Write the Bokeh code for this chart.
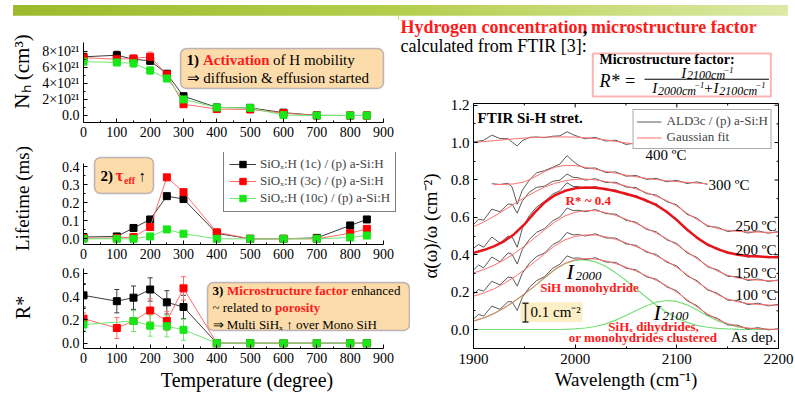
from bokeh.plotting import figure
from bokeh.models import (Range1d, LinearAxis, FixedTicker, PrintfTickFormatter, Legend,
                          LegendItem, BoxAnnotation, Whisker, ColumnDataSource, Div, GridBox, TeeHead)
from bokeh.core.properties import value
from bokeh.embed import file_html
from bokeh.resources import INLINE

SERIF = "Liberation Serif"

# ================= DATA: left panels =================
temps = [0, 100, 150, 200, 250, 300, 400, 500, 600, 700, 800, 850]
series_names = ["SiOₓ:H (1c) / (p) a-Si:H", "SiOₓ:H (3c) / (p) a-Si:H", "SiOₓ:H (10c) / (p) a-Si:H"]
temp_ticks = [0, 100, 200, 300, 400, 500, 600, 700, 800, 900]
temp_minor = [50, 150, 250, 350, 450, 550, 650, 750, 850]

# hydrogen concentration N_H in units of 1e21 cm^-3
nh_1c = [7.3, 7.5, 7.0, 6.8, 5.2, 2.4, 1.0, 0.95, 0.35, 0.02, 0.0, 0.0]
nh_3c = [7.2, 7.0, 7.1, 7.3, 5.1, 1.4, 0.8, 0.75, 0.30, 0.0, 0.0, 0.0]
nh_10c = [6.7, 6.6, 6.5, 5.6, 4.6, 2.0, 1.0, 0.95, 0.05, 0.0, 0.0, 0.0]
nh_err_1c = [0.3, 0.5, 0.3, 0.4, 0.25, 0.15, 0.1, 0.1, 0.05, 0.0, 0.0, 0.0]
nh_err_3c = [0.3, 0.6, 0.4, 0.6, 0.25, 0.2, 0.1, 0.1, 0.05, 0.0, 0.0, 0.0]
nh_err_10c = [0.3, 0.4, 0.5, 0.45, 0.3, 0.2, 0.1, 0.1, 0.05, 0.0, 0.0, 0.0]
nh_ticks = [0, 2, 4, 6, 8]
nh_tick_labels = ["0.0", "2×10²¹", "4×10²¹", "6×10²¹", "8×10²¹"]

# effective lifetime (ms)
tau_1c = [0.010, 0.013, 0.060, 0.107, 0.236, 0.220, 0.030, 0.0, 0.0, 0.005, 0.074, 0.107]
tau_3c = [0.004, 0.004, 0.010, 0.065, 0.340, 0.258, 0.036, 0.0, 0.0, 0.0, 0.031, 0.055]
tau_10c = [0.0, 0.0, 0.0, 0.013, 0.052, 0.028, 0.0, 0.0, 0.0, 0.0, 0.007, 0.018]

# microstructure factor R*
rstar_1c = [0.41, 0.36, 0.39, 0.46, 0.35, 0.31, 0.0, 0.0, 0.0, 0.0, 0.0, 0.0]
rstar_err_1c = [0.10, 0.10, 0.10, 0.10, 0.10, 0.10, 0.0, 0.0, 0.0, 0.0, 0.0, 0.0]
rstar_3c = [0.21, 0.13, 0.19, 0.28, 0.19, 0.47, 0.0, 0.0, 0.0, 0.0, 0.0, 0.0]
rstar_err_3c = [0.05, 0.09, 0.09, 0.10, 0.08, 0.10, 0.0, 0.0, 0.0, 0.0, 0.0, 0.0]
temps_r_10c = [0, 150, 200, 250, 300, 400, 500, 600, 700, 800, 850]
rstar_10c = [0.16, 0.19, 0.15, 0.145, 0.115, 0.0, 0.0, 0.0, 0.0, 0.0, 0.0]
rstar_err_10c = [0.05, 0.09, 0.09, 0.09, 0.09, 0.0, 0.0, 0.0, 0.0, 0.0, 0.0]

# ================= DATA: FTIR panel =================
wn = [1900, 1910, 1920, 1930, 1940, 1950, 1960, 1970, 1980, 1990, 2000, 2010, 2020, 2030, 2040,
      2050, 2060, 2070, 2080, 2090, 2100, 2110, 2120, 2130, 2140, 2150, 2160, 2170, 2180, 2190, 2200]
fit_asdep = [.045, .062, .085, .115, .150, .190, .232, .278, .322, .355, .373, .380, .377, .367, .352,
             .334, .312, .288, .262, .234, .200, .160, .120, .084, .053, .031, .016, .008, .004, .002, .000]
fit_100 = [.178, .195, .217, .246, .280, .319, .361, .405, .447, .480, .498, .506, .505, .496, .482,
           .464, .443, .420, .394, .366, .333, .293, .254, .218, .187, .163, .148, .139, .134, .131, .130]
fit_150 = [.302, .320, .343, .372, .406, .446, .489, .533, .575, .608, .627, .636, .635, .626, .610,
           .590, .567, .542, .515, .486, .453, .416, .378, .342, .312, .290, .276, .268, .264, .262, .261]
fit_200 = [.410, .425, .445, .472, .510, .562, .625, .680, .718, .742, .755, .760, .758, .752, .740,
           .726, .710, .690, .665, .630, .585, .535, .490, .455, .430, .412, .400, .393, .390, .388, .387]
fit_250 = [.550, .575, .605, .638, .672, .705, .735, .762, .782, .796, .803, .805, .800, .792, .781,
           .768, .752, .733, .712, .690, .660, .622, .588, .558, .540, .530, .525, .522, .521, .520, .520]
wn_300 = [1920, 1930, 1940, 1950, 1960, 1970, 1980, 1990, 2000, 2010, 2020, 2030, 2040, 2050, 2060,
          2070, 2080, 2090, 2100, 2110, 2120, 2130]
fit_300 = [.775, .776, .779, .790, .815, .845, .868, .878, .877, .868, .857, .846, .836, .826, .817,
           .809, .802, .796, .791, .787, .783, .780]
wn_400 = [1900, 1910, 1920, 1930, 1940, 1950, 1960, 1970, 1980, 1990, 2000, 2010, 2020, 2030, 2040,
          2050, 2060, 2070, 2080, 2090, 2100]
fit_400 = [1.000, 1.005, 1.010, 1.015, 1.020, 1.024, 1.027, 1.029, 1.030, 1.030, 1.029, 1.026, 1.021,
           1.014, 1.006, .998, .992, .987, .982, .978, .975]
gauss_2000 = [.045, .062, .085, .115, .150, .190, .232, .277, .320, .352, .370, .374, .362, .338, .303,
              .262, .218, .173, .130, .092, .062, .038, .022, .012, .006, .003, .001, 0, 0, 0, 0]
gauss_2100 = [0, 0, 0, 0, 0, 0, 0, 0, 0, .001, .003, .008, .016, .030, .050,
              .075, .102, .127, .146, .155, .150, .132, .104, .074, .047, .027, .014, .006, .003, .001, 0]

wn_meas = [1900, 1905, 1910, 1918, 1926, 1934, 1938, 1943, 1948, 1955, 1962, 1970, 1978, 1985, 1992,
           1998, 2003, 2010, 2020, 2030, 2040, 2050, 2060, 2070, 2080, 2090, 2100, 2110, 2120, 2130,
           2140, 2150, 2160, 2170, 2180, 2190, 2200]
meas_asdep = [.057, .081, .072, .125, .108, .149, .148, .102, .172, .226, .261, .283, .328, .349, .394,
              .381, .383, .374, .384, .361, .359, .328, .319, .282, .269, .228, .207, .154, .127, .078,
              .060, .025, .023, .002, .010, -.002, .004]
meas_100 = [.190, .214, .205, .258, .239, .280, .278, .232, .301, .355, .390, .410, .454, .474, .519,
            .506, .508, .500, .512, .490, .489, .458, .450, .414, .401, .360, .340, .287, .261, .212,
            .194, .157, .155, .133, .141, .126, .135]
meas_150 = [.318, .345, .330, .388, .362, .410, .402, .350, .428, .482, .520, .540, .582, .602, .650,
            .636, .638, .630, .642, .620, .617, .584, .574, .536, .522, .480, .460, .410, .385, .336,
            .319, .284, .283, .262, .270, .257, .265]
meas_200 = [.435, .455, .440, .495, .462, .500, .495, .440, .540, .610, .655, .685, .725, .742, .785,
            .765, .765, .754, .765, .746, .747, .720, .717, .684, .672, .624, .592, .529, .497, .449,
            .437, .406, .407, .387, .396, .383, .391]
meas_250 = [.562, .590, .585, .644, .630, .671, .670, .622, .688, .735, .760, .767, .793, .799, .832,
            .814, .812, .799, .807, .786, .788, .762, .759, .727, .719, .684, .667, .616, .595, .552,
            .547, .524, .532, .516, .527, .515, .524]
wn_meas_300 = [1918, 1926, 1934, 1938, 1943, 1948, 1955, 1962, 1970, 1978, 1985, 1992, 1998, 2003,
               2010, 2020, 2030, 2040, 2050, 2060, 2070, 2080, 2090, 2100, 2110, 2120, 2130]
meas_300 = [.780, .776, .782, .762, .670, .745, .800, .838, .850, .868, .885, .930, .900, .880,
            .862, .864, .840, .843, .820, .824, .803, .809, .790, .798, .781, .790, .776]
wn_meas_400 = [1900, 1905, 1910, 1918, 1926, 1934, 1938, 1943, 1948, 1955, 1962, 1970, 1978, 1985,
               1992, 1998, 2003, 2010, 2020, 2030, 2040, 2050, 2060, 2070, 2080, 2090, 2100]
meas_400 = [1.002, 1.008, 1.012, 1.040, 1.022, 1.020, 1.002, .982, 1.010, 1.028, 1.030, 1.026, 1.034,
            1.036, 1.058, 1.042, 1.032, 1.020, 1.028, 1.008, 1.013, .990, .998, .980, .988, .972, .978]
wn_ticks = [1900, 2000, 2100, 2200]
wn_minor = [1950, 2050, 2150]
ab_ticks = [0, 0.2, 0.4, 0.6, 0.8, 1.0, 1.2]
ab_minor = [0.1, 0.3, 0.5, 0.7, 0.9, 1.1]

# ================= styles =================
LINE_C = ["#3c3c3c", "#ff6a6a", "#70e870"]
MARK_C = ["#000000", "#ff0000", "#17e617"]
BOX_FILL = "#fcdcab"
BOX_LINE = "#26306c"
RED_TXT = "#ff1a1a"


def txt(p, x, y, s, size, color="black", style="normal", align="left", rn="px"):
    kw = dict(x_range_name=rn, y_range_name=rn) if rn else {}
    p.text(x=[x], y=[y], text=[s], text_font=value(SERIF), text_font_size=size, text_color=color,
           text_font_style=style, text_align=align, text_baseline="middle", **kw)


def style_axis(ax, tick_size="14px", label_size="20px", label_standoff=5, tick_standoff=4):
    ax.major_tick_in = 4
    ax.major_tick_out = 0
    ax.minor_tick_in = 2
    ax.minor_tick_out = 0
    ax.axis_line_color = "black"
    ax.major_tick_line_color = "black"
    ax.minor_tick_line_color = "black"
    ax.major_label_text_font = SERIF
    ax.major_label_text_font_size = tick_size
    ax.major_label_text_color = "black"
    ax.major_label_standoff = tick_standoff
    ax.axis_label_text_font = SERIF
    ax.axis_label_text_font_size = label_size
    ax.axis_label_text_font_style = "normal"
    ax.axis_label_text_color = "black"
    ax.axis_label_standoff = label_standoff


def left_fig(width, height, top_b, bot_b, yr, frame_top, frame_bottom):
    p = figure(width=width, height=height, x_range=Range1d(0, (width - 83) * 3),
               y_range=Range1d(*yr), output_backend="svg", toolbar_location=None, tools="",
               x_axis_type=None, y_axis_type=None, min_border_left=83, min_border_right=0,
               min_border_top=top_b, min_border_bottom=bot_b)
    p.outline_line_color = None
    p.extra_x_ranges = {"px": Range1d(83, width)}
    p.extra_y_ranges = {"px": Range1d(frame_bottom, frame_top)}
    xa = LinearAxis(ticker=FixedTicker(ticks=temp_ticks, minor_ticks=temp_minor), bounds=(0, 900))
    style_axis(xa)
    p.add_layout(xa, "below")
    return p, xa


def add_series(p, xs, ys, k, errs=None):
    lr = p.line(xs, ys, line_color=LINE_C[k], line_width=1)
    if errs is not None:
        bx = [x for x, e in zip(xs, errs) if e > 0]
        lo = [y - e for y, e in zip(ys, errs) if e > 0]
        hi = [y + e for y, e in zip(ys, errs) if e > 0]
        src = ColumnDataSource(dict(x=bx, lo=lo, hi=hi))
        w = Whisker(source=src, base="x", lower="lo", upper="hi", line_color=LINE_C[k], line_width=1,
                    upper_head=TeeHead(size=5, line_color=LINE_C[k], line_width=1),
                    lower_head=TeeHead(size=5, line_color=LINE_C[k], line_width=1), level="underlay")
        p.add_layout(w)
    sr = p.scatter(xs, ys, marker="square", size=7, fill_color=MARK_C[k], line_color=MARK_C[k])
    return lr, sr


def panel_box(p, l, r, t, b):
    p.add_layout(BoxAnnotation(left=l, right=r, top=t, bottom=b, x_range_name="px", y_range_name="px",
                               fill_color=BOX_FILL, fill_alpha=1, line_color=BOX_LINE, line_width=1.5,
                               border_radius=6, level="underlay"))


# ---------------- panel 1: N_H ----------------
fig1, _ = left_fig(398, 132, 5, 25, (-0.871, 11.82), 20, 122)
ya1 = LinearAxis(ticker=FixedTicker(ticks=nh_ticks, minor_ticks=[1, 3, 5, 7]), bounds=(-0.871, 9.1),
                 axis_label="Nₕ (cm³)",
                 major_label_overrides={t: s for t, s in zip(nh_ticks, nh_tick_labels)})
style_axis(ya1, label_size="21px", label_standoff=5)
fig1.add_layout(ya1, "left")
panel_box(fig1, 180, 383, 48, 88)
for k, (ys, es) in enumerate([(nh_1c, nh_err_1c), (nh_3c, nh_err_3c), (nh_10c, nh_err_10c)]):
    add_series(fig1, temps, ys, k, es)
txt(fig1, 186, 59, "1)", "15px", style="bold")
txt(fig1, 202.5, 59, "Activation", "15px", color=RED_TXT, style="bold")
txt(fig1, 272.6, 59, "of H mobility", "15px")
txt(fig1, 186, 77, "⇒ diffusion & effusion started", "15px")

# ---------------- panel 2: lifetime ----------------
fig2, _ = left_fig(398, 117, 5, 20, (-0.0315, 0.4775), 152, 244)
ya2 = LinearAxis(ticker=FixedTicker(ticks=[0, 0.1, 0.2, 0.3, 0.4], minor_ticks=[0.05, 0.15, 0.25, 0.35]),
                 bounds=(-0.0315, 0.415), axis_label="Lifetime (ms)",
                 formatter=PrintfTickFormatter(format="%.1f"))
style_axis(ya2, label_size="19px", label_standoff=26)
fig2.add_layout(ya2, "left")
panel_box(fig2, 94, 153, 157, 193)
items = []
for k, ys in enumerate([tau_1c, tau_3c, tau_10c]):
    lr, sr = add_series(fig2, temps, ys, k)
    items.append(LegendItem(label=series_names[k], renderers=[lr, sr]))
txt(fig2, 100, 175, "2)", "15px", style="bold")
txt(fig2, 115, 175, "τ", "17px", color=RED_TXT, style="bold")
txt(fig2, 123.5, 179.5, "eff", "10px", color=RED_TXT, style="bold")
txt(fig2, 138, 175, "↑", "15px")
leg2 = Legend(items=items, location=(140, 32), label_text_font=SERIF, label_text_font_size="13px",
              glyph_width=27, glyph_height=16, label_height=16, label_standoff=4, padding=5, spacing=1,
              border_line_color="black", border_line_width=1, background_fill_color="white",
              background_fill_alpha=1, margin=0)
fig2.add_layout(leg2)

# ---------------- panel 3: R* ----------------
fig3, xa3 = left_fig(410, 137, 2, 53, (-0.0454, 0.657), 266, 348)
xa3.axis_label = "Temperature (degree)"
xa3.axis_label_text_font_size = "20px"
xa3.axis_label_standoff = 3
ya3 = LinearAxis(ticker=FixedTicker(ticks=[0, 0.2, 0.4, 0.6], minor_ticks=[0.1, 0.3, 0.5]),
                 bounds=(-0.0454, 0.64), axis_label="R*",
                 formatter=PrintfTickFormatter(format="%.1f"))
style_axis(ya3, label_standoff=25)
fig3.add_layout(ya3, "left")
panel_box(fig3, 207, 409, 282, 330)
add_series(fig3, temps, rstar_1c, 0, rstar_err_1c)
add_series(fig3, temps, rstar_3c, 1, rstar_err_3c)
add_series(fig3, temps_r_10c, rstar_10c, 2, rstar_err_10c)
txt(fig3, 212, 290, "3)", "13px", style="bold")
txt(fig3, 226.5, 290, "Microstructure factor", "13px", color=RED_TXT, style="bold")
txt(fig3, 350.8, 290, "enhanced", "13px")
txt(fig3, 212, 307, "~ related to", "13px")
txt(fig3, 274.5, 307, "porosity", "13px", color=RED_TXT, style="bold")
txt(fig3, 212, 323.5, "⇒  Multi SiHₓ ↑ over Mono SiH", "13px")

# ---------------- header ----------------
header = figure(width=397, height=83, x_range=Range1d(398, 795), y_range=Range1d(98, 15),
                output_backend="svg", toolbar_location=None, tools="", x_axis_type=None,
                y_axis_type=None, min_border_left=0, min_border_right=0, min_border_top=0,
                min_border_bottom=0)
header.outline_line_color = None
txt(header, 400, 22, "Hydrogen concentration", "18px", color=RED_TXT, style="bold", rn=None)
txt(header, 590.5, 22, ",", "18px", style="bold", rn=None)
txt(header, 599, 22, "microstructure factor", "18px", color=RED_TXT, style="bold", rn=None)
txt(header, 400, 42, "calculated from FTIR [3]:", "18px", rn=None)
header.add_layout(BoxAnnotation(left=601, right=787, top=50, bottom=96, fill_color="white", fill_alpha=1,
                                line_color="#ff0000", line_width=2, level="underlay"))
txt(header, 608, 56.5, "Microstructure factor:", "14px", style="bold", rn=None)
txt(header, 608, 79, "R* =", "18px", style="italic", rn=None)
header.segment(x0=[655], y0=[77.5], x1=[785], y1=[77.5], line_color="black", line_width=1)
txt(header, 693.5, 70.5, "I", "15px", style="italic", rn=None)
txt(header, 699.5, 73.5, "2100cm", "12px", style="italic", rn=None)
txt(header, 737.5, 67.5, "−1", "8.5px", style="italic", rn=None)
txt(header, 663, 87, "I", "15px", style="italic", rn=None)
txt(header, 669, 90, "2000cm", "12px", style="italic", rn=None)
txt(header, 707, 84, "−1", "8.5px", style="italic", rn=None)
txt(header, 717.5, 87, "+", "15px", rn=None)
txt(header, 727, 87, "I", "15px", style="italic", rn=None)
txt(header, 733, 90, "2100cm", "12px", style="italic", rn=None)
txt(header, 771, 84, "−1", "8.5px", style="italic", rn=None)

# ---------------- FTIR panel ----------------
Y0, Y1 = -0.1016, 1.209
ftir = figure(width=385, height=303, x_range=Range1d(1900, 2200), y_range=Range1d(Y0, Y1),
              output_backend="svg", toolbar_location=None, tools="", x_axis_type=None, y_axis_type=None,
              min_border_left=63, min_border_right=17, min_border_top=5, min_border_bottom=49)
ftir.outline_line_color = "black"
ftir.extra_x_ranges = {"px": Range1d(473, 778)}
ftir.extra_y_ranges = {"px": Range1d(352, 103)}
fxa = LinearAxis(ticker=FixedTicker(ticks=wn_ticks, minor_ticks=wn_minor), axis_label="Wavelength (cm⁻¹)")
style_axis(fxa, tick_size="15px", label_size="19px", label_standoff=2, tick_standoff=5)
ftir.add_layout(fxa, "below")
fya = LinearAxis(ticker=FixedTicker(ticks=ab_ticks, minor_ticks=ab_minor), axis_label="α(ω)/ω (cm⁻²)",
                 formatter=PrintfTickFormatter(format="%.1f"))
style_axis(fya, tick_size="15px", label_size="19px", label_standoff=7, tick_standoff=4)
ftir.add_layout(fya, "left")
# inward ticks on the top and right frame edges
px_y = (Y1 - Y0) / 249.0
px_x = 300.0 / 305.0
ftir.segment(x0=wn_ticks, y0=[Y1] * 4, x1=wn_ticks, y1=[Y1 - 4 * px_y] * 4, line_color="black")
ftir.segment(x0=wn_minor, y0=[Y1] * 3, x1=wn_minor, y1=[Y1 - 2 * px_y] * 3, line_color="black")
ftir.segment(x0=[2200] * 7, y0=ab_ticks, x1=[2200 - 4 * px_x] * 7, y1=ab_ticks, line_color="black")
ftir.segment(x0=[2200] * 6, y0=ab_minor, x1=[2200 - 2 * px_x] * 6, y1=ab_minor, line_color="black")

# scale bar box
ftir.add_layout(BoxAnnotation(left=520, right=582, top=305, bottom=325, x_range_name="px",
                              y_range_name="px", fill_color="#fcefc6", fill_alpha=1, line_color=None,
                              level="underlay"))
ftir.segment(x0=[525, 522, 522], y0=[306, 306, 325], x1=[525, 528, 528], y1=[325, 306, 325],
             line_color="#333333", line_width=1.5, x_range_name="px", y_range_name="px")
txt(ftir, 530, 315, "0.1 cm⁻²", "15px")

ftir.line(wn, gauss_2000, line_color="#78e078", line_width=1.2)
ftir.line(wn, gauss_2100, line_color="#78e078", line_width=1.2)

meas_sets = [(wn_meas, meas_asdep), (wn_meas, meas_100), (wn_meas, meas_150), (wn_meas, meas_200),
             (wn_meas, meas_250), (wn_meas_300, meas_300), (wn_meas_400, meas_400)]
fit_sets = [(wn, fit_asdep), (wn, fit_100), (wn, fit_150), (wn, fit_250), (wn_300, fit_300),
            (wn_400, fit_400)]
black_r = None
for xs, ys in meas_sets:
    r = ftir.line(xs, ys, line_color="#5a5a5a", line_width=1)
    black_r = black_r or r
red_r = None
for xs, ys in fit_sets:
    r = ftir.line(xs, ys, line_color="#ff6f6f", line_width=1)
    red_r = red_r or r
ftir.line(wn, fit_200, line_color="#e8141a", line_width=2.5)

txt(ftir, 477, 118, "FTIR Si-H stret.", "15px", style="bold")
txt(ftir, 645, 155, "400 ºC", "15px")
txt(ftir, 708, 186, "300 ºC", "15px")
txt(ftir, 776, 227, "250 ºC", "15px", align="right")
txt(ftir, 776, 252, "200 ºC", "15px", align="right")
txt(ftir, 776, 275, "150 ºC", "15px", align="right")
txt(ftir, 776, 298, "100 ºC", "15px", align="right")
txt(ftir, 776, 340, "As dep.", "15px", align="right")
txt(ftir, 565, 202, "R* ~ 0.4", "13px", color=RED_TXT, style="bold")
txt(ftir, 566, 274, "I", "22px", style="italic")
txt(ftir, 575, 278, "2000", "13px", style="italic")
txt(ftir, 589, 290, "SiH monohydride", "13px", color=RED_TXT, style="bold", align="center")
txt(ftir, 653, 315, "I", "22px", style="italic")
txt(ftir, 662, 319, "2100", "13px", style="italic")
txt(ftir, 653, 329.5, "SiHₓ dihydrides,", "13px", color=RED_TXT, style="bold", align="center")
txt(ftir, 642.5, 341, "or monohydrides clustered", "13px", color=RED_TXT, style="bold", align="center")

leg4 = Legend(items=[LegendItem(label="ALD3c / (p) a-Si:H", renderers=[black_r]),
                     LegendItem(label="Gaussian fit", renderers=[red_r])],
              location="top_right", margin=6, label_text_font=SERIF, label_text_font_size="13px",
              glyph_width=25, glyph_height=13, label_height=13, label_standoff=5, padding=3, spacing=0,
              border_line_color="#555555", border_line_width=1, background_fill_color="white",
              background_fill_alpha=1)
ftir.add_layout(leg4)

# ---------------- top bar & layout ----------------
topbar = Div(text="", width=783, height=15,
             styles={"background": "linear-gradient(90deg, #ffffff 0px, #ffffff 8px, #9cba2c 8px, "
                                   "#b4ce4c 50%, #dde9a6 100%)"})

grid = GridBox(children=[(topbar, 0, 0, 1, 3), (fig1, 1, 0, 2, 1), (header, 1, 1, 1, 2),
                         (fig2, 3, 0, 1, 1), (fig3, 4, 0, 1, 2), (ftir, 2, 2, 3, 1)],
               rows=["15px", "83px", "49px", "117px", "137px"], cols=["398px", "12px", "385px"],
               spacing=0)

open("out.html", "w").write(file_html(grid, INLINE))
